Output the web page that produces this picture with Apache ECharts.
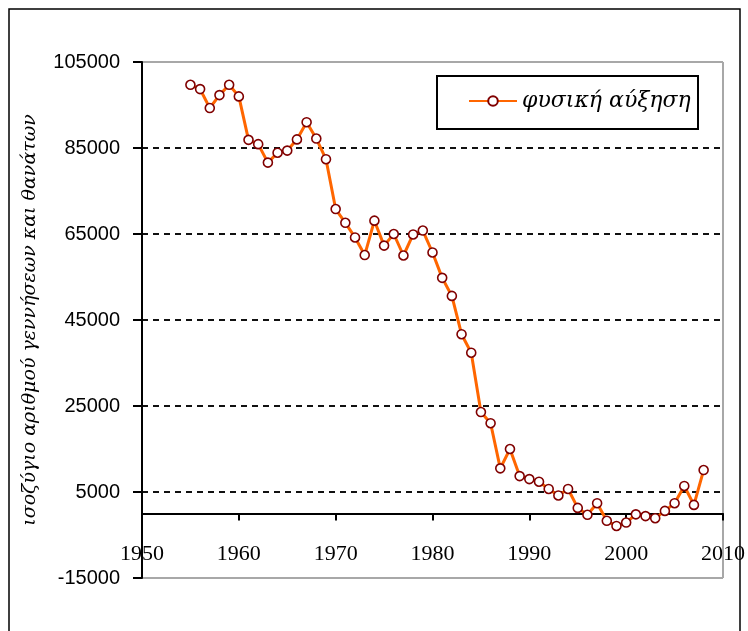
<!DOCTYPE html>
<html>
<head>
<meta charset="utf-8">
<script src="https://cdn.jsdelivr.net/npm/echarts@6/dist/echarts.min.js"></script>
<style>
html,body{margin:0;padding:0;background:#fff;}
#c{width:748px;height:631px;}
</style>
</head>
<body>
<div id="c"></div>
<script>
// Data
var years = [1955,1956,1957,1958,1959,1960,1961,1962,1963,1964,1965,1966,1967,1968,1969,
  1970,1971,1972,1973,1974,1975,1976,1977,1978,1979,1980,1981,1982,1983,1984,1985,1986,1987,
  1988,1989,1990,1991,1992,1993,1994,1995,1996,1997,1998,1999,2000,2001,2002,2003,2004,2005,
  2006,2007,2008];
var naturalIncrease = [99700,98700,94300,97300,99700,97000,86900,85900,81600,83900,84400,87000,
  91000,87200,82400,70800,67600,64200,60100,68100,62300,65000,60000,64900,65800,60700,54800,
  50600,41700,37400,23600,21000,10500,15000,8700,8000,7400,5700,4200,5700,1300,-300,2400,
  -1700,-2900,-2100,-200,-600,-1100,600,2400,6400,2000,10100];
var seriesName = 'φυσική αύξηση';
var yTitle = 'ισοζύγιο αριθμού γεννήσεων και θανάτων';
var xMin = 1950, xMax = 2010, xStep = 10;
var yMin = -15000, yMax = 105000, yStep = 20000;

var points = years.map(function(y, i){ return [y, naturalIncrease[i]]; });

var chart = echarts.init(document.getElementById('c'), null, {renderer:'canvas'});
chart.setOption({
  animation: false,
  backgroundColor: '#fff',
  grid: {
    left: 142, top: 62, right: 25, bottom: 53,
    containLabel: false, outerBoundsMode: 'none',
    show: false
  },
  xAxis: {
    type: 'value', min: xMin, max: xMax, interval: xStep, z: 3,
    axisLine: {show: true, onZero: true, lineStyle: {color: '#000', width: 2}},
    axisTick: {show: true, inside: false, length: 7, lineStyle: {color: '#000', width: 2}},
    axisLabel: {margin: -35, color: '#000', fontFamily: 'Liberation Serif', fontSize: 22,
      formatter: function(v){ return String(v); }},
    splitLine: {show: false}
  },
  yAxis: {
    type: 'value', min: yMin, max: yMax, interval: yStep, z: 3,
    axisLine: {show: true, onZero: false, lineStyle: {color: '#000', width: 2}},
    axisTick: {show: true, inside: false, length: 9, lineStyle: {color: '#000', width: 2}},
    axisLabel: {margin: 22, color: '#000', fontFamily: 'Liberation Sans', fontSize: 20,
      formatter: function(v){ return String(v); }},
    splitLine: {show: true, showMinLine: false, showMaxLine: false,
      lineStyle: {color: '#111', width: 2, type: [6, 5]}}
  },
  legend: {
    left: 468, top: 90, z: 6,
    itemWidth: 48, itemHeight: 12, itemGap: 6,
    padding: 0,
    textStyle: {fontFamily: 'DejaVu Serif', fontStyle: 'italic', fontSize: 22, color: '#000'},
    data: [seriesName]
  },
  graphic: [
    {type: 'rect', shape: {x: 9, y: 9, width: 731, height: 640},
      style: {fill: 'none', stroke: '#000', lineWidth: 1.5}, silent: true, z: 0},
    {type: 'rect', shape: {x: 437, y: 76, width: 261, height: 53},
      style: {fill: '#fff', stroke: '#000', lineWidth: 2}, silent: true, z: 4},
    {type: 'text', x: 30, y: 320, rotation: Math.PI / 2,
      style: {text: yTitle, fontFamily: 'DejaVu Serif', fontStyle: 'italic', fontSize: 19,
        fill: '#000', align: 'center', verticalAlign: 'middle'}, silent: true, z: 1}
  ],
  series: [{
    name: seriesName,
    type: 'line',
    data: points,
    z: 5,
    clip: false,
    lineStyle: {color: '#ff6600', width: 3},
    symbol: 'circle', symbolSize: 9, showSymbol: true,
    itemStyle: {color: '#fff', borderColor: '#800000', borderWidth: 1.6},
    emphasis: {disabled: true},
    markLine: {
      silent: true, symbol: 'none', z: 1,
      label: {show: false},
      emphasis: {disabled: true},
      lineStyle: {color: '#a8a8a8', width: 2, type: 'solid'},
      data: [{yAxis: yMin}, {yAxis: yMax}, {xAxis: xMax}]
    }
  }]
});
</script>
</body>
</html>
